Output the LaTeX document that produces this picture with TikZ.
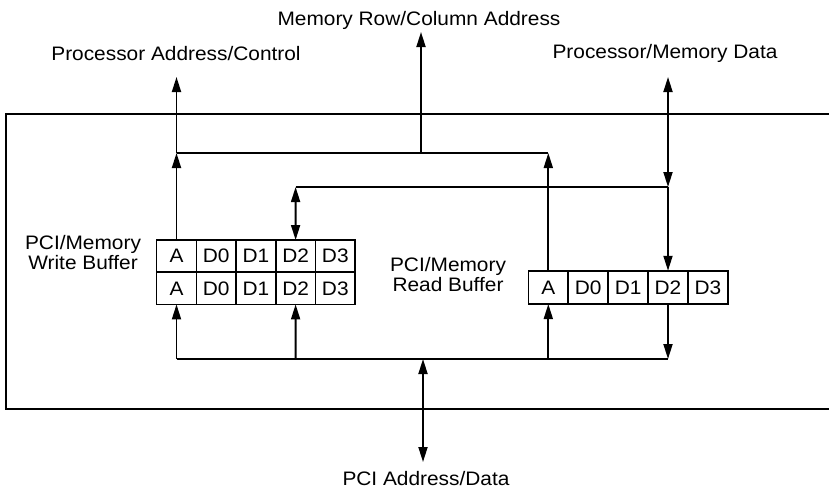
\documentclass[tikz,border=0pt]{standalone}
\usepackage{fontspec}
\setmainfont{Liberation Sans}[FakeStretch=1.07]
\usetikzlibrary{arrows.meta}

\begin{document}
\begin{tikzpicture}[
  x = 1pt, y = -1pt,
  every node/.style = {font=\fontsize{19.5}{19.5}\selectfont, inner sep=0pt},
  cell/.style = {draw, line width=1.6pt, minimum width=39.7pt, minimum height=32.2pt, outer sep=0pt},
  wire/.style = {draw, line width=1.8pt},
  oneway/.style = {wire, -{Triangle[length=15pt, width=9pt]}},
  twoway/.style = {wire, {Triangle[length=15pt, width=9pt]}-{Triangle[length=15pt, width=9pt]}},
]
\useasboundingbox (0,0) rectangle (829,491);

% chip outline, cut off at the right
\draw[line width=2.2pt] (829,114) -- (6,114) -- (6,409) -- (829,409);

% write buffer has two rows, read buffer one
\foreach \txt [count=\i from 0] in {A, D0, D1, D2, D3} {
  \node[cell] (wt\i) at (176.5+39.7*\i, 256.1) {\txt};
  \node[cell] (wb\i) at (176.5+39.7*\i, 288.3) {\txt};
  \node[cell, minimum width=39.9pt, minimum height=33.3pt] (rd\i) at (548.3+39.9*\i, 287.4) {\txt};
}

% base anchor sits on the last line here
\node[align=center, anchor=base] (wlbl) at (83,269) {PCI/Memory\\Write Buffer};
\node[align=center, anchor=base] (rlbl) at (448,291) {PCI/Memory\\Read Buffer};

\node[anchor=base] (procaddr) at (176,60) {Processor Address/Control};
\node[anchor=base] (memaddr)  at (419,25) {Memory Row/Column Address};
\node[anchor=base] (procdata) at (665,58.5) {Processor/Memory Data};
\node[anchor=base] (pcibus)   at (426,485) {PCI Address/Data};

% bus taps and free arrow ends
\coordinate (aw) at (176.5,153);
\coordinate (ar) at (548.3,153);
\coordinate (am) at (421,153);
\coordinate (dw) at (295.6,187);
\coordinate (dr) at (668,187);
\coordinate (pw0) at (176.5,359);
\coordinate (pw3) at (295.6,359);
\coordinate (pr0) at (548.3,359);
\coordinate (pr3) at (668,359);
\coordinate (pm) at (423,359);
\coordinate (ta) at (176.5,77);
\coordinate (tm) at (421,32);
\coordinate (td) at (668,77);
\coordinate (tp) at (423,462);

% address bus
\draw[wire] (aw) -- (ar);
\draw[oneway] (wt0) -- (aw);
\draw[oneway] (rd0) -- (ar);
\draw[oneway] (aw) -- (ta);
\draw[oneway] (am) -- (tm);

% data bus
\draw[wire] (dw) -- (dr);
\draw[twoway] (dw) -- (wt3);
\draw[twoway] (td) -- (dr);
\draw[oneway] (dr) -- (rd3);

% PCI side
\draw[wire] (pw0) -- (pr3);
\foreach \cell/\tap in {wb0/pw0, wb3/pw3, rd0/pr0}
  \draw[oneway] (\tap) -- (\cell);
\draw[oneway] (rd3) -- (pr3);
\draw[twoway] (pm) -- (tp);

\end{tikzpicture}
\end{document}
